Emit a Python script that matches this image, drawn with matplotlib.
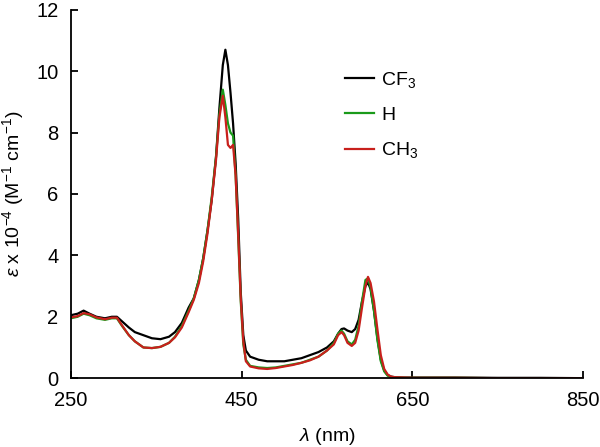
import matplotlib
matplotlib.use('Agg')
import matplotlib.pyplot as plt

plt.rcParams['font.family'] = ['Liberation Sans', 'DejaVu Sans']
plt.rcParams['mathtext.fontset'] = 'custom'
plt.rcParams['mathtext.rm'] = 'Liberation Sans'
plt.rcParams['mathtext.it'] = 'Liberation Sans:italic'

# wavelength (nm)
wl = [250, 258, 265, 272, 280, 290, 298, 304, 310, 318, 325, 335, 345, 355, 365,
      372, 380, 388, 394, 400, 405, 410, 415, 420, 424, 428, 431, 434, 437, 440,
      443, 446, 449, 452, 455, 460, 470, 480, 490, 500, 510, 520, 530, 540, 550,
      558, 563, 567, 570, 574, 579, 583, 587, 591, 595, 598, 601, 605, 609, 613,
      617, 621, 625, 630, 640, 650, 700, 750, 800, 850]

# epsilon x 10^-4
cf3 = [2.05, 2.1, 2.2, 2.1, 2.0, 1.95, 2.0, 2.0, 1.85, 1.65, 1.5, 1.4, 1.3, 1.27, 1.35,
       1.5, 1.8, 2.3, 2.6, 3.2, 3.9, 4.8, 5.8, 7.2, 8.8, 10.2, 10.7, 10.2, 9.3, 8.3,
       7.0, 5.2, 2.8, 1.4, 0.9, 0.7, 0.6, 0.55, 0.55, 0.55, 0.6, 0.65, 0.75, 0.85, 1.0,
       1.2, 1.45, 1.6, 1.62, 1.55, 1.5, 1.6, 1.9, 2.5, 3.0, 3.12, 2.9, 2.2, 1.3, 0.6,
       0.25, 0.1, 0.05, 0.03, 0.02, 0.02, 0.02, 0.01, 0.01, 0.0]
h = [1.95, 2.0, 2.1, 2.05, 1.95, 1.9, 1.95, 1.95, 1.7, 1.4, 1.2, 1.0, 0.98, 1.02, 1.15,
     1.35, 1.7, 2.2, 2.6, 3.2, 3.9, 4.8, 5.9, 7.2, 8.6, 9.4, 8.9, 8.3, 8.0, 7.9,
     6.6, 4.6, 2.5, 1.1, 0.6, 0.4, 0.35, 0.33, 0.35, 0.4, 0.45, 0.5, 0.6, 0.7, 0.9,
     1.15, 1.45, 1.55, 1.45, 1.2, 1.1, 1.25, 1.7, 2.5, 3.2, 3.25, 2.95, 2.2, 1.25, 0.55,
     0.22, 0.08, 0.04, 0.02, 0.01, 0.01, 0.01, 0.0, 0.0, 0.0]
ch3 = [1.98, 2.02, 2.12, 2.08, 1.98, 1.92, 1.97, 1.97, 1.72, 1.4, 1.2, 1.0, 0.98, 1.02, 1.15,
       1.33, 1.65, 2.15, 2.55, 3.1, 3.8, 4.7, 5.8, 7.1, 8.5, 9.2, 8.5, 7.6, 7.5, 7.6,
       6.6, 4.7, 2.6, 1.2, 0.55, 0.38, 0.32, 0.3, 0.33, 0.38, 0.43, 0.5, 0.58, 0.7, 0.9,
       1.1, 1.4, 1.5, 1.4, 1.15, 1.05, 1.15, 1.55, 2.3, 3.0, 3.3, 3.1, 2.5, 1.6, 0.75,
       0.3, 0.12, 0.05, 0.03, 0.02, 0.01, 0.01, 0.0, 0.0, 0.0]

fig = plt.figure(figsize=(6, 4.47), dpi=100)
ax = fig.add_axes([0.118, 0.154, 0.854, 0.824])

ax.plot(wl, cf3, color='black', lw=1.6, label='CF$_3$')
ax.plot(wl, h, color='#1a9a1a', lw=1.6, label='H')
ax.plot(wl, ch3, color='#c8201c', lw=1.6, label='CH$_3$')

ax.set_xlim(250, 850)
ax.set_ylim(0, 12)
ax.set_xticks([250, 450, 650, 850])
ax.set_yticks(range(0, 13, 2))
ax.tick_params(direction='in', length=5, width=1.3, labelsize=14.5, pad=9)
for s in ['top', 'right']:
    ax.spines[s].set_visible(False)
for s in ['left', 'bottom']:
    ax.spines[s].set_linewidth(1.3)

ax.set_xlabel(r'$\it{\lambda}$ (nm)', fontsize=14, labelpad=12)
ax.set_ylabel(r'$\it{\varepsilon}$ x 10$^{-4}$ (M$^{-1}$ cm$^{-1}$)', fontsize=14, labelpad=7)

ax.legend(loc='upper left', bbox_to_anchor=(0.50, 0.885), frameon=False, fontsize=14,
          handlelength=1.5, handletextpad=0.4, labelspacing=0.85)

fig.savefig('out.png', dpi=100)
